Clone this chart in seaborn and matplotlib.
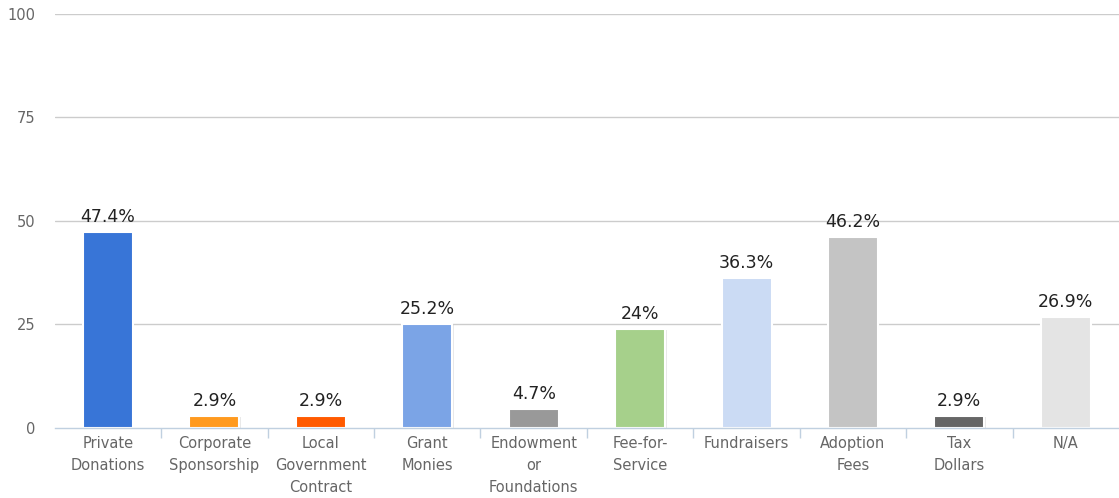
import matplotlib
matplotlib.use("Agg")
import matplotlib.pyplot as plt
import matplotlib.patheffects as pe
import seaborn as sns
import pandas as pd

categories = [
    "Private\nDonations", "Corporate\nSponsorship", "Local\nGovernment\nContract",
    "Grant\nMonies", "Endowment\nor\nFoundations", "Fee-for-\nService",
    "Fundraisers", "Adoption\nFees", "Tax\nDollars", "N/A",
]
values = [47.4, 2.9, 2.9, 25.2, 4.7, 24.0, 36.3, 46.2, 2.9, 26.9]
value_labels = ["47.4%", "2.9%", "2.9%", "25.2%", "4.7%", "24%", "36.3%", "46.2%", "2.9%", "26.9%"]
colors = ["#3875d7", "#ff9a1f", "#ff5a00", "#7ba4e6", "#999999",
          "#a6d08b", "#cbdbf4", "#c4c4c4", "#666666", "#e4e4e4"]
y_ticks = [0, 25, 50, 75, 100]

df = pd.DataFrame({"category": categories, "value": values})

sns.set_theme(style="white")
plt.rcParams["font.family"] = ["DejaVu Sans"]

fig = plt.figure(figsize=(11.19, 4.98), dpi=100)
ax = fig.add_axes([0.049, 0.1406, 0.951, 0.8313])

sns.barplot(data=df, x="category", y="value", hue="category",
            palette=colors, legend=False, width=0.47, ax=ax,
            edgecolor="white", linewidth=1.5, saturation=1)

for p in ax.patches:
    p.set_path_effects([pe.SimplePatchShadow(offset=(1, -1), alpha=0.18, shadow_rgbFace="#888888"),
                        pe.Normal()])

for i, (v, lab) in enumerate(zip(values, value_labels)):
    ax.annotate(lab, (i, v), xytext=(0, 4), textcoords="offset points",
                ha="center", va="bottom", fontsize=12.5, color="#222222")

ax.set_ylim(0, 100)
ax.set_xlim(-0.5, len(categories) - 0.5)
ax.set_yticks(y_ticks)
ax.set_yticklabels([str(t) for t in y_ticks], fontsize=10.5, color="#666666")
ax.tick_params(axis="y", length=0, pad=14)

for t in y_ticks[1:]:
    ax.axhline(t, color="#cccccc", lw=1, zorder=0)

ax.set_xticks(range(len(categories)))
ax.set_xticklabels(categories, fontsize=10.5, color="#666666", linespacing=1.55)
ax.tick_params(axis="x", which="major", length=0, pad=6)
ax.set_xticks([i + 0.5 for i in range(len(categories) - 1)], minor=True)
ax.tick_params(axis="x", which="minor", bottom=True, length=7, width=1,
               color="#c0d0e0", direction="out")

for side in ["top", "right", "left"]:
    ax.spines[side].set_visible(False)
ax.spines["bottom"].set_color("#c0d0e0")
ax.spines["bottom"].set_linewidth(1)
ax.set_xlabel("")
ax.set_ylabel("")

fig.savefig("out.png", dpi=100)
